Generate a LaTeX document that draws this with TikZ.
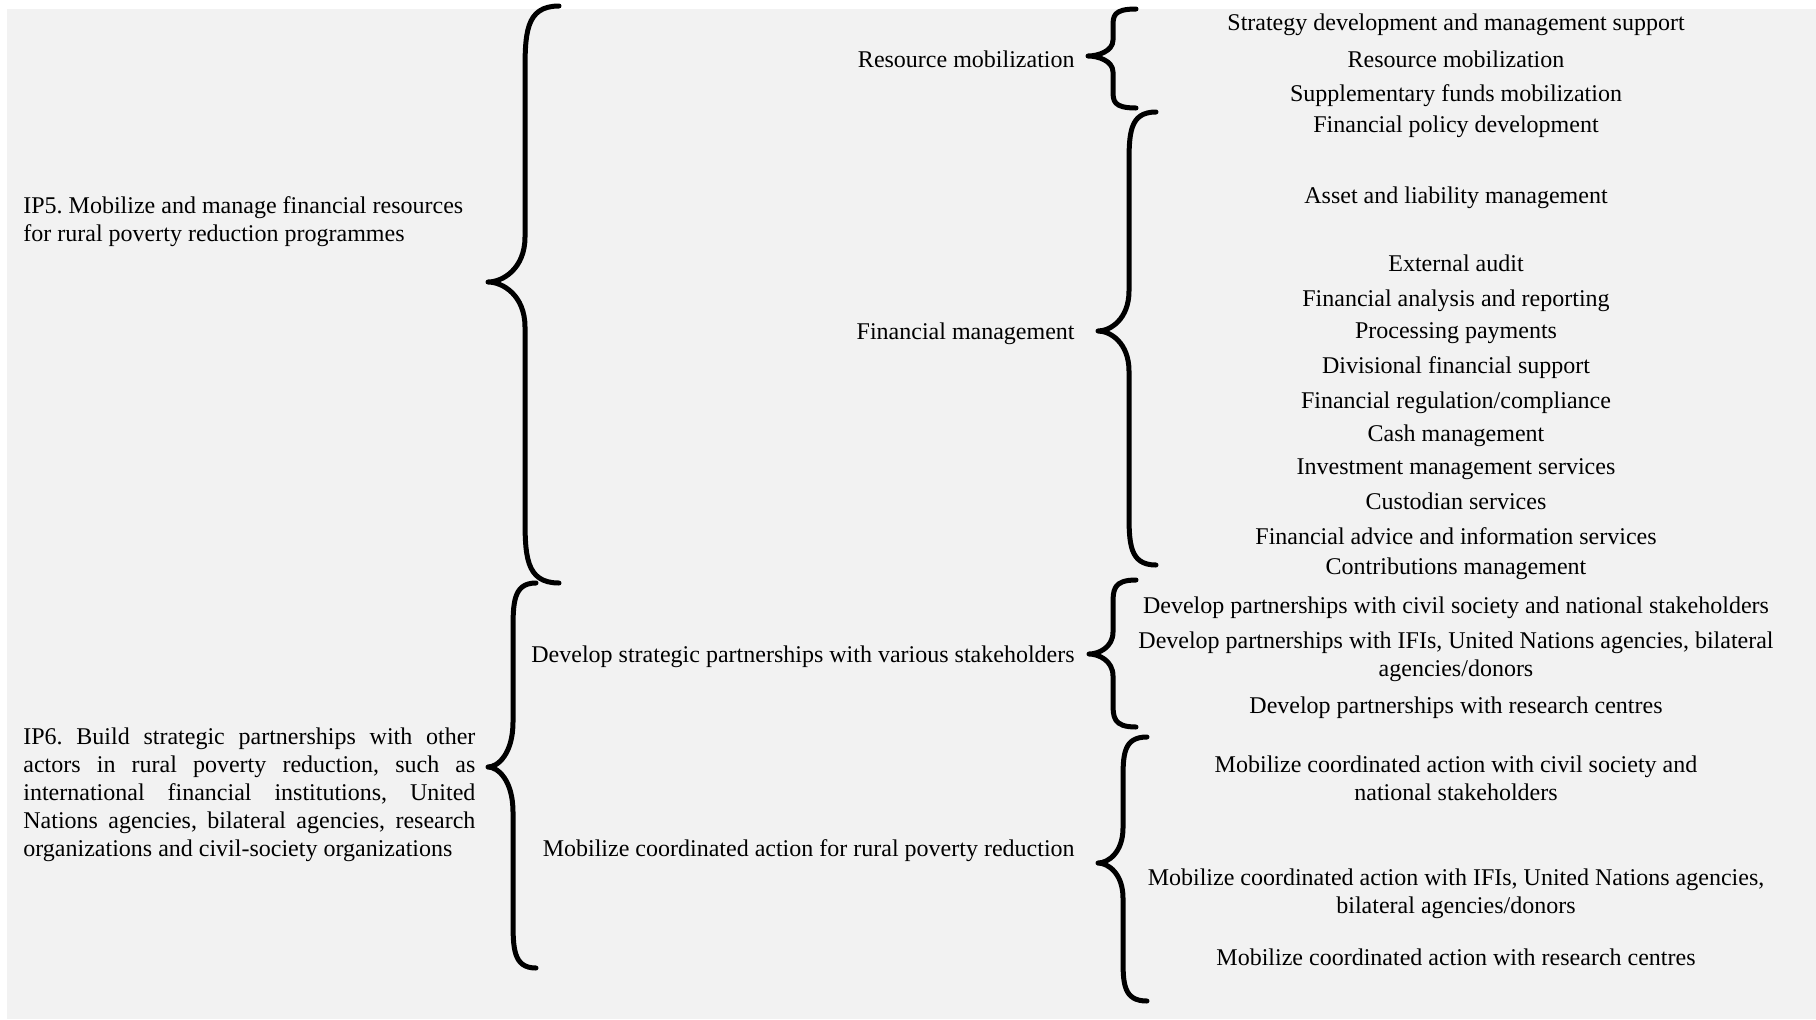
\documentclass[tikz,border=0pt]{standalone}
\usepackage{fontspec}
\setmainfont{Liberation Serif}
\definecolor{bggray}{HTML}{F2F2F2}
\newcommand\cbrace[8]{% #1 spine x, #2 end x, #3 tip x, #4 top y, #5 tip y, #6 bottom y, #7 end radius, #8 tip radius
  \draw[bracestyle] (#2,#4) .. controls (#1,#4) and (#1,{#4+0.4*#7}) .. (#1,{#4+#7})
    -- (#1,{#5-#8}) .. controls (#1,{#5-0.3*#8}) and ({#3+0.4*(#1-#3)},#5) .. (#3,#5)
    .. controls ({#3+0.4*(#1-#3)},#5) and (#1,{#5+0.3*#8}) .. (#1,{#5+#8})
    -- (#1,{#6-#7}) .. controls (#1,{#6-0.4*#7}) and (#1,#6) .. (#2,#6);}
\tikzset{
  bracestyle/.style={line width=2.5pt, line cap=round, line join=round},
  lbl/.style={inner sep=0pt, text depth=0pt, font=\fontsize{12}{14}\selectfont},
  item/.style={lbl, align=center},
  mid/.style={lbl, anchor=east},
}
\begin{document}
\frenchspacing
\begin{tikzpicture}[x=0.5pt,y=-0.5pt]
\useasboundingbox (0,0) rectangle (1816,1019);
\fill[bggray] (7,9) rectangle (1816,1019);

% left column
\node[lbl, anchor=west, align=left] (ip5) at (23,219) {IP5. Mobilize and manage financial resources\\for rural poverty reduction programmes};
\node[lbl, anchor=west, align=left] (ip6) at (23,792) {\makebox[226pt][s]{IP6. Build strategic partnerships with other}\\
\makebox[226pt][s]{actors in rural poverty reduction, such as}\\
\makebox[226pt][s]{international financial institutions, United}\\
\makebox[226pt][s]{Nations agencies, bilateral agencies, research}\\
organizations and civil-society organizations};

% middle column
\node[mid] (rm) at (1075,59) {Resource mobilization};
\node[mid] (fm) at (1075,331) {Financial management};
\node[mid] (dsp) at (1075,654) {Develop strategic partnerships with various stakeholders};
\node[mid] (mca) at (1075,848) {Mobilize coordinated action for rural poverty reduction};

% right column
\node[item] (r1) at (1456,22) {Strategy development and management support};
\node[item] (r2) at (1456,59) {Resource mobilization};
\node[item] (r3) at (1456,93) {Supplementary funds mobilization};
\node[item] (f1) at (1456,124) {Financial policy development};
\node[item] (f2) at (1456,195) {Asset and liability management};
\node[item] (f3) at (1456,263) {External audit};
\node[item] (f4) at (1456,298) {Financial analysis and reporting};
\node[item] (f5) at (1456,331) {Processing payments};
\node[item] (f6) at (1456,365) {Divisional financial support};
\node[item] (f7) at (1456,400) {Financial regulation/compliance};
\node[item] (f8) at (1456,433) {Cash management};
\node[item] (f9) at (1456,467) {Investment management services};
\node[item] (f10) at (1456,501) {Custodian services};
\node[item] (f11) at (1456,536) {Financial advice and information services};
\node[item] (f12) at (1456,566) {Contributions management};
\node[item] (d1) at (1456,605) {Develop partnerships with civil society and national stakeholders};
\node[item] (d2) at (1456,654) {Develop partnerships with IFIs, United Nations agencies, bilateral\\agencies/donors};
\node[item] (d3) at (1456,705) {Develop partnerships with research centres};
\node[item] (m1) at (1456,778) {Mobilize coordinated action with civil society and\\national stakeholders};
\node[item] (m2) at (1456,891) {Mobilize coordinated action with IFIs, United Nations agencies,\\bilateral agencies/donors};
\node[item] (m3) at (1456,957) {Mobilize coordinated action with research centres};

% braces
\cbrace{525}{559}{488}{6}{282}{583}{70}{45}
\cbrace{513}{536}{488}{583}{767}{968}{50}{45}
\cbrace{1113}{1136}{1088}{9}{56}{108}{18}{16}
\cbrace{1129}{1156}{1098}{112}{331}{565}{55}{40}
\cbrace{1113}{1136}{1089}{580}{654}{727}{25}{22}
\cbrace{1123}{1147}{1098}{737}{863}{1001}{45}{35}
\end{tikzpicture}
\end{document}
